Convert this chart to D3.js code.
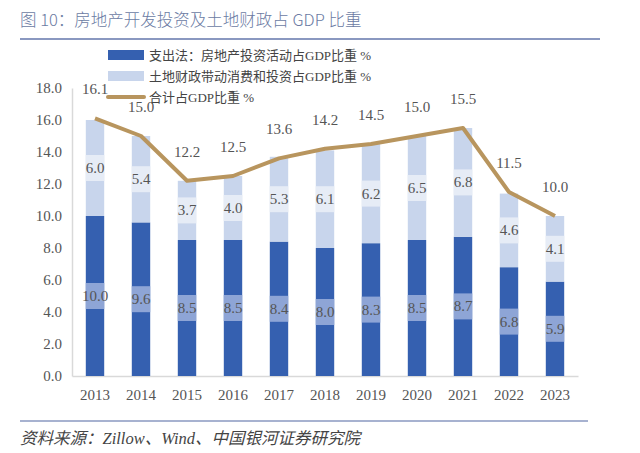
<!DOCTYPE html>
<html><head><meta charset="utf-8">
<script src="https://cdn.jsdelivr.net/npm/d3@7"></script>
<style>
body{margin:0;background:#fff;}
svg{display:block;}
text{font-family:"Liberation Serif","DejaVu Serif","Noto Sans CJK SC",serif;}
</style></head>
<body><svg id="c" width="640" height="453"></svg>
<script>
const years = ["2013","2014","2015","2016","2017","2018","2019","2020","2021","2022","2023"];
const realEstate = [10.0,9.6,8.5,8.5,8.4,8.0,8.3,8.5,8.7,6.8,5.9];
const landFinance = [6.0,5.4,3.7,4.0,5.3,6.1,6.2,6.5,6.8,4.6,4.1];
const totals = [16.1,15.0,12.2,12.5,13.6,14.2,14.5,15.0,15.5,11.5,10.0];
const yTicks = [0,2,4,6,8,10,12,14,16,18];
const seriesNames = ["支出法：房地产投资活动占GDP比重 %","土地财政带动消费和投资占GDP比重 %","合计占GDP比重 %"];

const svg = d3.select("#c");
const cBlue="#3560b0", cLight="#c8d5ec", cLine="#b8955e";
const m = {l:72, r:62, t:88, b:77};
const W=640,H=453;
const x = d3.scaleBand().domain(years).range([m.l, W-m.r]).paddingInner(0.6).paddingOuter(0.3);
const y = d3.scaleLinear().domain([0,18]).range([H-m.b, m.t]);

// title
svg.append("text").attr("x",20).attr("y",26).attr("fill","#6b7ba3").attr("font-size",16.5)
  .style("font-family","'Noto Sans CJK SC',sans-serif").style("font-weight",300)
  .text("图 10：房地产开发投资及土地财政占 GDP 比重");
svg.append("line").attr("x1",20).attr("x2",600).attr("y1",39).attr("y2",39).attr("stroke","#8a98c0").attr("stroke-width",2);

// axes
const yAxis = svg.append("g").attr("transform",`translate(${m.l},0)`)
  .call(d3.axisLeft(y).tickValues(yTicks).tickFormat(d3.format(".1f")).tickSize(0).tickPadding(10));
yAxis.select(".domain").attr("stroke","#d9d9d9").attr("stroke-width",1.5);
yAxis.selectAll("text").attr("font-size",15).attr("fill","#555");

const xAxis = svg.append("g").attr("transform",`translate(0,${y(0)})`)
  .call(d3.axisBottom(x).tickSize(0).tickPadding(13));
xAxis.select(".domain").attr("stroke","#d9d9d9").attr("stroke-width",1.5);
xAxis.selectAll("text").attr("font-size",15).attr("fill","#555");

// bars
const g = svg.append("g");
years.forEach((yr,i)=>{
  const bw = x.bandwidth(), bx = x(yr);
  g.append("rect").attr("x",bx).attr("width",bw).attr("y",y(realEstate[i])).attr("height",y(0)-y(realEstate[i])).attr("fill",cBlue);
  g.append("rect").attr("x",bx).attr("width",bw).attr("y",y(realEstate[i]+landFinance[i])).attr("height",y(realEstate[i])-y(realEstate[i]+landFinance[i])).attr("fill",cLight);
  const m1 = y(realEstate[i]/2);
  g.append("rect").attr("x",bx).attr("width",bw).attr("y",m1-13).attr("height",26).attr("fill","#8ea5d6");
  g.append("text").attr("x",bx+bw/2).attr("y",m1+5).attr("text-anchor","middle").attr("font-size",15).attr("fill","#555").text(realEstate[i].toFixed(1));
  const m2 = y(realEstate[i]+landFinance[i]/2);
  g.append("rect").attr("x",bx).attr("width",bw).attr("y",m2-13).attr("height",26).attr("fill","#e6ecf6");
  g.append("text").attr("x",bx+bw/2).attr("y",m2+5).attr("text-anchor","middle").attr("font-size",15).attr("fill","#555").text(landFinance[i].toFixed(1));
});

// line
const line = d3.line().x((d,i)=>x(years[i])+x.bandwidth()/2).y(d=>y(d));
svg.append("path").datum(totals).attr("d",line).attr("fill","none").attr("stroke",cLine).attr("stroke-width",4).attr("stroke-linejoin","round");
svg.append("g").selectAll("text").data(totals).join("text")
  .attr("x",(d,i)=>x(years[i])+x.bandwidth()/2).attr("y",d=>y(d)-24)
  .attr("text-anchor","middle").attr("font-size",15).attr("fill","#555").text(d=>d.toFixed(1));

// legend
const lg = svg.append("g");
const ly = [55,76,97];
lg.append("rect").attr("x",108).attr("y",ly[0]-5).attr("width",36).attr("height",10).attr("fill",cBlue);
lg.append("rect").attr("x",108).attr("y",ly[1]-5).attr("width",36).attr("height",10).attr("fill",cLight);
lg.append("line").attr("x1",108).attr("x2",144).attr("y1",ly[2]).attr("y2",ly[2]).attr("stroke",cLine).attr("stroke-width",4).attr("stroke-linecap","round");
seriesNames.forEach((n,i)=>{
  lg.append("text").attr("x",149).attr("y",ly[i]+5).attr("font-size",13).attr("fill","#444").text(n);
});

// source
svg.append("line").attr("x1",20).attr("x2",588).attr("y1",421).attr("y2",421).attr("stroke","#8a98c0").attr("stroke-width",1.5);
svg.append("text").attr("x",20).attr("y",444).attr("font-size",16.5).attr("fill","#444").attr("font-style","italic")
  .text("资料来源：Zillow、Wind、中国银河证券研究院");
</script></body></html>
